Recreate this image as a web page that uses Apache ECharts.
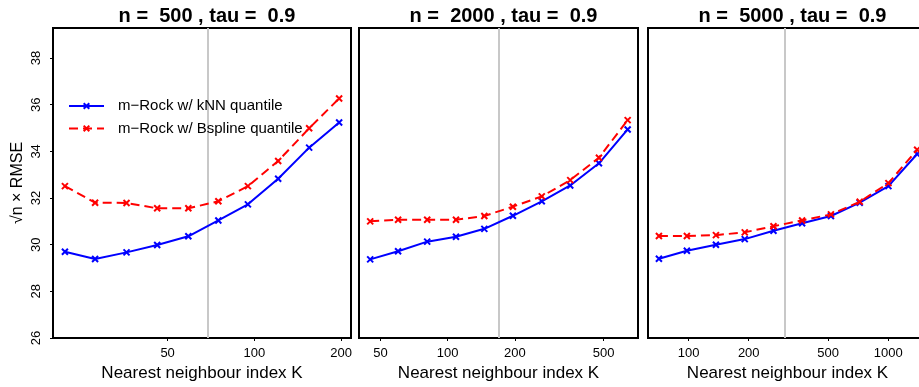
<!DOCTYPE html>
<html>
<head>
<meta charset="utf-8">
<script src="https://cdn.jsdelivr.net/npm/echarts@6/dist/echarts.min.js"></script>
<style>html,body{margin:0;padding:0;background:#fff;}#c{width:919px;height:387px;}</style>
</head>
<body>
<div id="c"></div>
<script>
// ---- data ----
const titles = ['n =  500 , tau =  0.9', 'n =  2000 , tau =  0.9', 'n =  5000 , tau =  0.9'];
const seriesNames = ['m\u2212Rock w/ kNN quantile', 'm\u2212Rock w/ Bspline quantile'];

const kPanel1 = [22, 28, 36, 46, 59, 75, 95, 121, 155, 197];
const knn1 = [29.70, 29.39, 29.67, 29.99, 30.36, 31.04, 31.73, 32.83, 34.16, 35.24];
const bsp1 = [32.51, 31.80, 31.79, 31.56, 31.56, 31.86, 32.51, 33.59, 34.99, 36.27];

const kPanel2 = [45, 60, 81, 109, 146, 196, 264, 354, 476, 640];
const knn2 = [29.37, 29.72, 30.13, 30.34, 30.68, 31.24, 31.86, 32.54, 33.49, 34.94];
const bsp2 = [31.00, 31.07, 31.07, 31.07, 31.23, 31.63, 32.07, 32.77, 33.73, 35.34];

const kPanel3 = [71, 98, 137, 191, 266, 370, 516, 719, 1001, 1394];
const knn3 = [29.40, 29.74, 30.00, 30.24, 30.60, 30.92, 31.23, 31.80, 32.51, 33.89];
const bsp3 = [30.37, 30.37, 30.41, 30.53, 30.79, 31.04, 31.30, 31.84, 32.64, 34.07];

const xTicks1 = [50, 100, 200];
const xTicks2 = [50, 100, 200, 500];
const xTicks3 = [100, 200, 500, 1000];
const xRange1 = [20, 216.6];
const xRange2 = [40.1, 712];
const xRange3 = [62.6, 1562];
const vLines = [69.5, 169.5, 300];

const yTicks = [26, 28, 30, 32, 34, 36, 38];
const yRange = [26, 39.29];

// ---- chart ----
const FONT = '"Liberation Sans", Arial, Helvetica, sans-serif';
const lg = Math.log10;
const panels = [
  {k: kPanel1, knn: knn1, bsp: bsp1, ticks: xTicks1, range: xRange1, v: vLines[0]},
  {k: kPanel2, knn: knn2, bsp: bsp2, ticks: xTicks2, range: xRange2, v: vLines[1]},
  {k: kPanel3, knn: knn3, bsp: bsp3, ticks: xTicks3, range: xRange3, v: vLines[2]}
];
const gridPos = [{left: 53, width: 298}, {left: 359, width: 279}, {left: 648, width: 279}];
const crossPath = 'path://M0,0L10,10M10,0L0,10';

const grids = [], xAxes = [], yAxes = [], series = [], titleArr = [];
panels.forEach((p, i) => {
  grids.push({left: gridPos[i].left, width: gridPos[i].width, top: 28, bottom: 49,
    outerBoundsMode: 'none', containLabel: false,
    show: true, borderColor: '#000', borderWidth: 2, backgroundColor: 'transparent'});
  titleArr.push({text: titles[i], left: gridPos[i].left + gridPos[i].width / 2, top: 1,
    textAlign: 'center',
    textStyle: {fontFamily: FONT, fontSize: 20, fontWeight: 'bold', color: '#000'}});
  const tv = p.ticks.map(lg);
  xAxes.push({type: 'value', gridIndex: i, min: lg(p.range[0]), max: lg(p.range[1]),
    name: 'Nearest neighbour index K', nameLocation: 'middle', nameGap: 27,
    nameTextStyle: {fontFamily: FONT, fontSize: 17, color: '#000'},
    axisLine: {show: false}, splitLine: {show: false},
    axisTick: {show: true, inside: false, length: 3, customValues: tv, lineStyle: {color: '#000', width: 1}},
    axisLabel: {show: true, customValues: tv, margin: 9, fontFamily: FONT, fontSize: 13, color: '#000',
      formatter: v => String(Math.round(Math.pow(10, v)))}});
  yAxes.push({type: 'value', gridIndex: i, min: yRange[0], max: yRange[1],
    name: i === 0 ? '\u221An \u00D7 RMSE' : '', nameLocation: 'middle', nameGap: 27, nameRotate: 90,
    nameTextStyle: {fontFamily: FONT, fontSize: 16, color: '#000'},
    axisLine: {show: false}, splitLine: {show: false},
    axisTick: {show: i === 0, inside: false, length: 3, customValues: yTicks, lineStyle: {color: '#000', width: 1}},
    axisLabel: {show: i === 0, customValues: yTicks, rotate: 90, margin: 10, fontFamily: FONT, fontSize: 13, color: '#000'}});
  const mk = (vals) => p.k.map((k, j) => [lg(k), vals[j]]);
  series.push({name: seriesNames[0], type: 'line', xAxisIndex: i, yAxisIndex: i, data: mk(p.knn),
    symbol: crossPath, symbolSize: 6, showAllSymbol: true, z: 3,
    lineStyle: {color: '#0000ff', width: 2},
    itemStyle: {color: '#0000ff', borderColor: '#0000ff', borderWidth: 2},
    markLine: {silent: true, symbol: 'none', z: 1, label: {show: false},
      lineStyle: {color: '#c8c8c8', width: 2, type: 'solid'}, data: [{xAxis: lg(p.v)}]}});
  series.push({name: seriesNames[1], type: 'line', xAxisIndex: i, yAxisIndex: i, data: mk(p.bsp),
    symbol: crossPath, symbolSize: 6, showAllSymbol: true, z: 4,
    lineStyle: {color: '#ff0000', width: 2, type: [9, 5]},
    itemStyle: {color: '#ff0000', borderColor: '#ff0000', borderWidth: 2}});
});

const chart = echarts.init(document.getElementById('c'), null, {renderer: 'canvas'});
chart.setOption({
  animation: false,
  backgroundColor: '#fff',
  title: titleArr,
  legend: {data: seriesNames, orient: 'vertical', left: 63, top: 93.5, itemWidth: 35, itemHeight: 7, itemGap: 7.4,
    textStyle: {fontFamily: FONT, fontSize: 15, color: '#000', padding: [0, 0, 0, 9]}},
  grid: grids, xAxis: xAxes, yAxis: yAxes, series: series
});
</script>
</body>
</html>
